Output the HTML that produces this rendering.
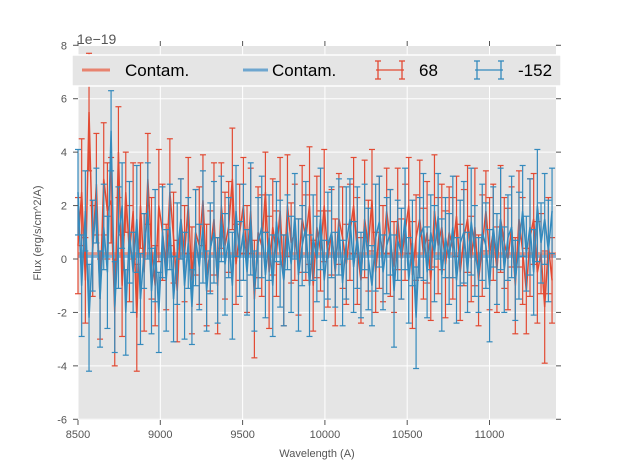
<!DOCTYPE html>
<html><head><meta charset="utf-8"><style>
body{margin:0;background:#fff;}
svg{display:block;font-family:"Liberation Sans",sans-serif;}
</style></head><body>
<svg id="chart" width="617" height="467">
<rect x="78" y="46" width="478" height="374" fill="#e5e5e5"/>
<g id="grid"></g>
<g id="series"></g>
<g id="axes"></g>
<text x="77" y="44" font-size="14" fill="#555">1e−19</text>
<text x="317" y="457" font-size="11" fill="#555" text-anchor="middle">Wavelength (A)</text>
<text transform="translate(41,233) rotate(-90)" font-size="11" fill="#555" text-anchor="middle">Flux (erg/s/cm^2/A)</text>
<g>
<rect x="72" y="55" width="489" height="31" fill="#e5e5e5" stroke="#fff" stroke-width="1.5"/>
<line x1="82" y1="70" x2="110" y2="70" stroke="#e8836f" stroke-width="3"/>
<text x="125" y="76" font-size="17" fill="#000">Contam.</text>
<line x1="243" y1="70" x2="268" y2="70" stroke="#6ea6cf" stroke-width="3"/>
<text x="272" y="76" font-size="17" fill="#000">Contam.</text>
<g stroke="#e24a33" stroke-width="1.3"><line x1="376" y1="70" x2="404" y2="70"/><line x1="378" y1="61" x2="378" y2="79"/><line x1="402" y1="61" x2="402" y2="79"/><line x1="375" y1="61" x2="381" y2="61"/><line x1="375" y1="79" x2="381" y2="79"/><line x1="399" y1="61" x2="405" y2="61"/><line x1="399" y1="79" x2="405" y2="79"/></g>
<text x="419" y="76" font-size="17" fill="#000">68</text>
<g stroke="#348abd" stroke-width="1.3"><line x1="475" y1="70" x2="503" y2="70"/><line x1="477" y1="61" x2="477" y2="79"/><line x1="501" y1="61" x2="501" y2="79"/><line x1="474" y1="61" x2="480" y2="61"/><line x1="474" y1="79" x2="480" y2="79"/><line x1="498" y1="61" x2="504" y2="61"/><line x1="498" y1="79" x2="504" y2="79"/></g>
<text x="518" y="76" font-size="17" fill="#000">-152</text>
</g>
</svg>
<script>
const xTicks=[8500,9000,9500,10000,10500,11000];
const yTicks=[-6,-4,-2,0,2,4,6,8];
const xStart=8500, xEnd=11380;
const contamRed=0.2, contamBlue=0.1;
const redFlux=[0.5,2.5,-0.8,5.5,0.3,2.8,-1.5,3.0,1.8,2.2,-2.0,4.0,-1.0,2.5,0.2,1.8,-2.2,2.0,-0.5,3.0,0.4,-1.0,2.0,1.0,-0.3,2.5,0.8,-1.2,1.5,0.2,2.0,-0.8,1.0,0.5,2.2,-0.6,0.3,1.5,-1.0,2.0,0.5,1.2,3.0,-0.2,1.0,2.0,0.0,1.8,-1.5,1.0,0.5,2.5,-0.5,1.2,0.2,1.8,-0.8,2.0,0.6,1.0,-0.3,1.5,0.8,2.0,-1.0,1.2,0.3,2.0,0.0,1.0,-0.5,1.5,0.8,-0.2,1.0,2.0,0.3,-0.8,1.5,0.5,2.2,-0.5,1.0,0.2,1.8,0.6,-0.3,1.5,0.0,1.0,2.0,-0.6,0.8,1.5,0.2,1.0,-0.8,1.8,0.5,1.2,-0.2,1.0,0.4,1.6,-0.5,0.8,1.5,0.0,1.2,-0.8,0.5,1.8,0.2,1.0,-0.4,1.5,0.6,0.0,1.2,-1.0,1.5,0.3,-1.2,0.8,1.5,-0.5,0.2,-1.8,0.5,-0.8];
const redErr=[1.8,2.0,1.6,2.2,1.7,1.9,1.5,2.1,1.8,1.6,2.0,1.7,1.9,1.5,1.8];
const blueFlux=[2.5,-1.0,1.8,-2.2,0.5,2.0,-1.5,1.2,-0.5,4.8,-1.8,0.8,2.0,-2.0,1.0,-0.5,1.5,-1.5,0.3,1.8,-1.2,0.5,-2.0,1.0,-0.8,1.2,-1.5,0.2,1.5,-1.0,0.6,-1.8,0.8,-0.3,1.2,-1.2,0.4,1.0,-0.8,1.5,-0.2,0.8,-1.0,1.8,0.0,1.0,-0.5,1.5,-1.2,0.6,1.2,-0.6,0.8,-1.0,1.4,0.2,-0.8,1.0,-0.2,1.6,-0.6,0.5,1.2,-1.0,0.8,0.0,1.5,-0.8,0.5,1.0,-0.4,1.2,-0.9,0.6,1.5,-0.3,0.8,-0.6,1.2,0.0,-1.0,0.8,1.4,-0.5,0.5,1.0,-1.2,0.7,0.2,1.5,-0.8,0.6,-2.2,0.8,1.2,-0.5,1.0,0.2,1.6,-0.6,0.8,0.0,1.2,-0.8,0.6,1.0,-0.5,1.4,0.3,-0.6,1.0,0.5,-1.0,1.2,0.0,1.5,-0.4,0.8,1.2,-0.8,0.5,1.8,0.2,1.2,-0.5,2.0,0.6,1.5,0.3,1.8];
const blueErr=[1.6,1.9,1.5,2.0,1.7,1.4,1.8,1.6,2.1,1.5,1.7,1.9,1.6];
const NS="http://www.w3.org/2000/svg";
const L=78,R=556,T=46,B=420;
function xs(v){return L+(v-8500)*(R-L)/(11404-8500);}
function ys(v){return 259-(v)*(B-T)/14;}
function mk(tag,attrs,parent){const e=document.createElementNS(NS,tag);for(const k in attrs)e.setAttribute(k,attrs[k]);parent.appendChild(e);return e;}
const grid=document.getElementById('grid'),axes=document.getElementById('axes'),ser=document.getElementById('series');
xTicks.forEach(t=>{const x=xs(t);
 const g=mk('line',{x1:x,x2:x,y1:T,y2:B,stroke:'#fff','stroke-width':1},grid);
 
 
 mk('line',{x1:x,x2:x,y1:T,y2:T-5,stroke:'#555'},axes);
 mk('line',{x1:x,x2:x,y1:B,y2:B+5,stroke:'#555'},axes);
 const tx=mk('text',{x:x,y:B+18,'font-size':11,fill:'#555','text-anchor':'middle'},axes);tx.textContent=t;
 
 
});
yTicks.forEach(t=>{const y=ys(t);
 const g=mk('line',{x1:L,x2:R,y1:y,y2:y,stroke:'#fff','stroke-width':1},grid);
 
 
 mk('line',{x1:L,x2:L-5,y1:y,y2:y,stroke:'#555'},axes);
 mk('line',{x1:R,x2:R+5,y1:y,y2:y,stroke:'#555'},axes);
 const tx=mk('text',{x:L-11,y:y+4,'font-size':11,fill:'#555','text-anchor':'end'},axes);tx.textContent=t;
 
 
});
function drawSeries(flux,err,color,name){
 const n=flux.length,step=(xEnd-xStart)/(n-1);
 const g=mk('g',{},ser);
 
 
 let pts=[];
 flux.forEach((v,i)=>{const x=xs(xStart+i*step);const e=err[i%err.length];
  const y1=ys(v+e),y2=ys(v-e);
  mk('line',{x1:x,x2:x,y1:y1,y2:y2,stroke:color,'stroke-width':1.2},g);
  mk('line',{x1:x-3,x2:x+3,y1:y1,y2:y1,stroke:color,'stroke-width':1.2},g);
  mk('line',{x1:x-3,x2:x+3,y1:y2,y2:y2,stroke:color,'stroke-width':1.2},g);
  pts.push(x+','+ys(v));});
 mk('polyline',{points:pts.join(' '),fill:'none',stroke:color,'stroke-width':1.5},g);
}
const cr=mk('line',{x1:L,x2:R,y1:ys(contamRed),y2:ys(contamRed),stroke:'#e8836f','stroke-width':3,opacity:0.8},ser);


const cb=mk('line',{x1:L,x2:R,y1:ys(contamBlue),y2:ys(contamBlue),stroke:'#6ea6cf','stroke-width':3,opacity:0.8},ser);


drawSeries(redFlux,redErr,'#e24a33','series-68');
drawSeries(blueFlux,blueErr,'#348abd','series-minus-152');
</script>
</body></html>
